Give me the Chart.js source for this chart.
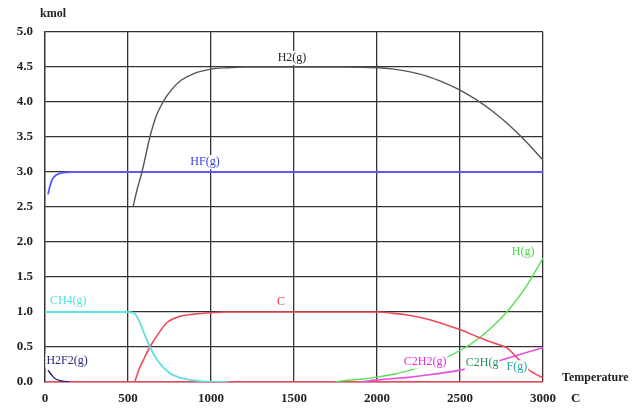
<!DOCTYPE html>
<html>
<head>
<meta charset="utf-8">
<script src="https://cdn.jsdelivr.net/npm/chart.js@4.4.1/dist/chart.umd.min.js"></script>
<style>
  html, body { margin: 0; padding: 0; background: #fff; }
  #wrap { width: 638px; height: 410px; position: relative; }
</style>
</head>
<body>
<div id="wrap"><canvas id="chart"></canvas></div>
<script>
// Equilibrium composition (kmol) versus temperature (C)
const tempTicks = [0, 500, 1000, 1500, 2000, 2500, 3000];
const kmolTicks = [0, 0.5, 1, 1.5, 2, 2.5, 3, 3.5, 4, 4.5, 5];

const h2Temp  = [530, 555, 584, 610, 632, 670, 711, 760, 820, 900, 1000, 1100, 1200, 1500, 1800, 2000, 2100, 2200, 2300, 2400, 2500, 2600, 2700, 2800, 2900, 3000];
const h2Kmol  = [2.5, 2.75, 3.0, 3.27, 3.5, 3.8, 4.0, 4.17, 4.31, 4.41, 4.47, 4.49, 4.5, 4.5, 4.5, 4.49, 4.47, 4.43, 4.37, 4.28, 4.17, 4.03, 3.86, 3.66, 3.43, 3.17];

const hfTemp  = [18, 30, 45, 70, 110, 160, 3000];
const hfKmol  = [2.68, 2.8, 2.9, 2.96, 2.99, 3.0, 3.0];

const ch4Temp = [0, 500, 540, 580, 610, 632, 680, 750, 850, 950, 1100];
const ch4Kmol = [1.0, 1.0, 0.98, 0.8, 0.62, 0.5, 0.3, 0.13, 0.04, 0.01, 0.0];

const cTemp   = [540, 570, 600, 632, 680, 735, 800, 900, 1000, 1100, 2000, 2100, 2200, 2300, 2400, 2500, 2600, 2700, 2780, 2850, 2900, 2950, 3000];
const cKmol   = [0.0, 0.2, 0.35, 0.5, 0.68, 0.85, 0.93, 0.97, 0.99, 1.0, 1.0, 0.98, 0.95, 0.9, 0.83, 0.75, 0.65, 0.56, 0.49, 0.33, 0.2, 0.12, 0.06];

const h2f2Temp = [18, 40, 60, 100, 150];
const h2f2Kmol = [0.17, 0.1, 0.05, 0.015, 0.0];

const hTemp   = [1750, 1800, 1900, 2000, 2100, 2200, 2300, 2400, 2500, 2600, 2700, 2800, 2900, 3000];
const hKmol   = [0.0, 0.02, 0.04, 0.07, 0.11, 0.17, 0.24, 0.33, 0.45, 0.6, 0.8, 1.05, 1.37, 1.77];

const c2h2Temp = [1900, 2000, 2100, 2200, 2300, 2400, 2500, 2600, 2700, 2800, 2900, 3000];
const c2h2Kmol = [0.0, 0.03, 0.05, 0.07, 0.1, 0.13, 0.17, 0.22, 0.28, 0.35, 0.42, 0.49];

// Species name tags placed beside their curves
const tagText  = ['H2(g)', 'HF(g)', 'CH4(g)', 'H2F2(g)', 'C', 'H(g)', 'C2H2(g)', 'C2H(g', 'F(g)'];
const tagTemp  = [1488, 964, 140, 133, 1422, 2880, 2290, 2633, 2843];
const tagKmol  = [4.63, 3.14, 1.16, 0.30, 1.14, 1.86, 0.29, 0.27, 0.21];
const tagColor = ['#222222', '#3a3ae0', '#4fe3e3', '#2a2a80', '#e8303f', '#44dd44', '#e030d8', '#2e8b57', '#2aa5a5'];

function pairs(xs, ys) { return xs.map((x, i) => ({ x: x, y: ys[i] })); }

const serif = '"Liberation Serif", "DejaVu Serif", serif';

const tagsPlugin = {
  id: 'speciesTags',
  afterDatasetsDraw(chart) {
    const { ctx, scales } = chart;
    ctx.save();
    ctx.font = '12px ' + serif;
    ctx.textAlign = 'center';
    ctx.textBaseline = 'middle';
    tagText.forEach((t, i) => {
      const px = scales.x.getPixelForValue(tagTemp[i]);
      const py = scales.y.getPixelForValue(tagKmol[i]);
      const w = ctx.measureText(t).width;
      ctx.fillStyle = '#ffffff';
      ctx.fillRect(px - w / 2 - 1, py - 7, w + 2, 14);
      ctx.fillStyle = tagColor[i];
      ctx.fillText(t, px, py);
    });
    // axis captions
    ctx.fillStyle = '#222';
    ctx.font = 'bold 12px ' + serif;
    ctx.textAlign = 'left';
    ctx.fillText('kmol', 40, 14);
    ctx.fillText('Temperature', 562, 378);
    ctx.font = 'bold 13px ' + serif;
    ctx.fillText('C', 571, 399);
    ctx.restore();
  }
};

function line(label, xs, ys, color, width) {
  return {
    label: label,
    data: pairs(xs, ys),
    borderColor: color,
    backgroundColor: color,
    borderWidth: width || 1.5,
    pointRadius: 0,
    cubicInterpolationMode: 'monotone',
    fill: false
  };
}

new Chart(document.getElementById('chart'), {
  type: 'line',
  data: {
    datasets: [
      line('H2(g)', h2Temp, h2Kmol, '#555555', 1.4),
      line('HF(g)', hfTemp, hfKmol, '#5a5aff', 1.8),
      line('CH4(g)', ch4Temp, ch4Kmol, '#5ee0e0', 1.8),
      line('C', cTemp, cKmol, '#ee4a5c', 1.6),
      line('H2F2(g)', h2f2Temp, h2f2Kmol, '#2a2a80', 1.5),
      line('H(g)', hTemp, hKmol, '#55e055', 1.4),
      line('C2H2(g)', c2h2Temp, c2h2Kmol, '#e84ee0', 1.6)
    ]
  },
  options: {
    responsive: true,
    maintainAspectRatio: false,
    animation: false,
    layout: { padding: { left: 0, right: 95, top: 32, bottom: 0 } },
    plugins: { legend: { display: false }, tooltip: { enabled: false } },
    scales: {
      x: {
        type: 'linear',
        min: 0, max: 3000,
        afterFit(s) { s.height = 28; },
        afterBuildTicks(s) { s.ticks = tempTicks.map(v => ({ value: v })); },
        ticks: { color: '#222', padding: 9, font: { family: serif, size: 13, weight: 'bold' },
                 callback: v => String(v) },
        grid: { color: '#333', lineWidth: 1.3, drawTicks: false },
        border: { color: '#ee4a5c', width: 1.6 }
      },
      y: {
        type: 'linear',
        min: 0, max: 5,
        afterFit(s) { s.width = 45; },
        afterBuildTicks(s) { s.ticks = kmolTicks.map(v => ({ value: v })); },
        ticks: { color: '#222', padding: 12, font: { family: serif, size: 13, weight: 'bold' },
                 callback: v => Number(v).toFixed(1) },
        grid: { color: '#333', lineWidth: 1.3, drawTicks: false },
        border: { color: '#333', width: 1.3 }
      }
    }
  },
  plugins: [tagsPlugin]
});
</script>
</body>
</html>
